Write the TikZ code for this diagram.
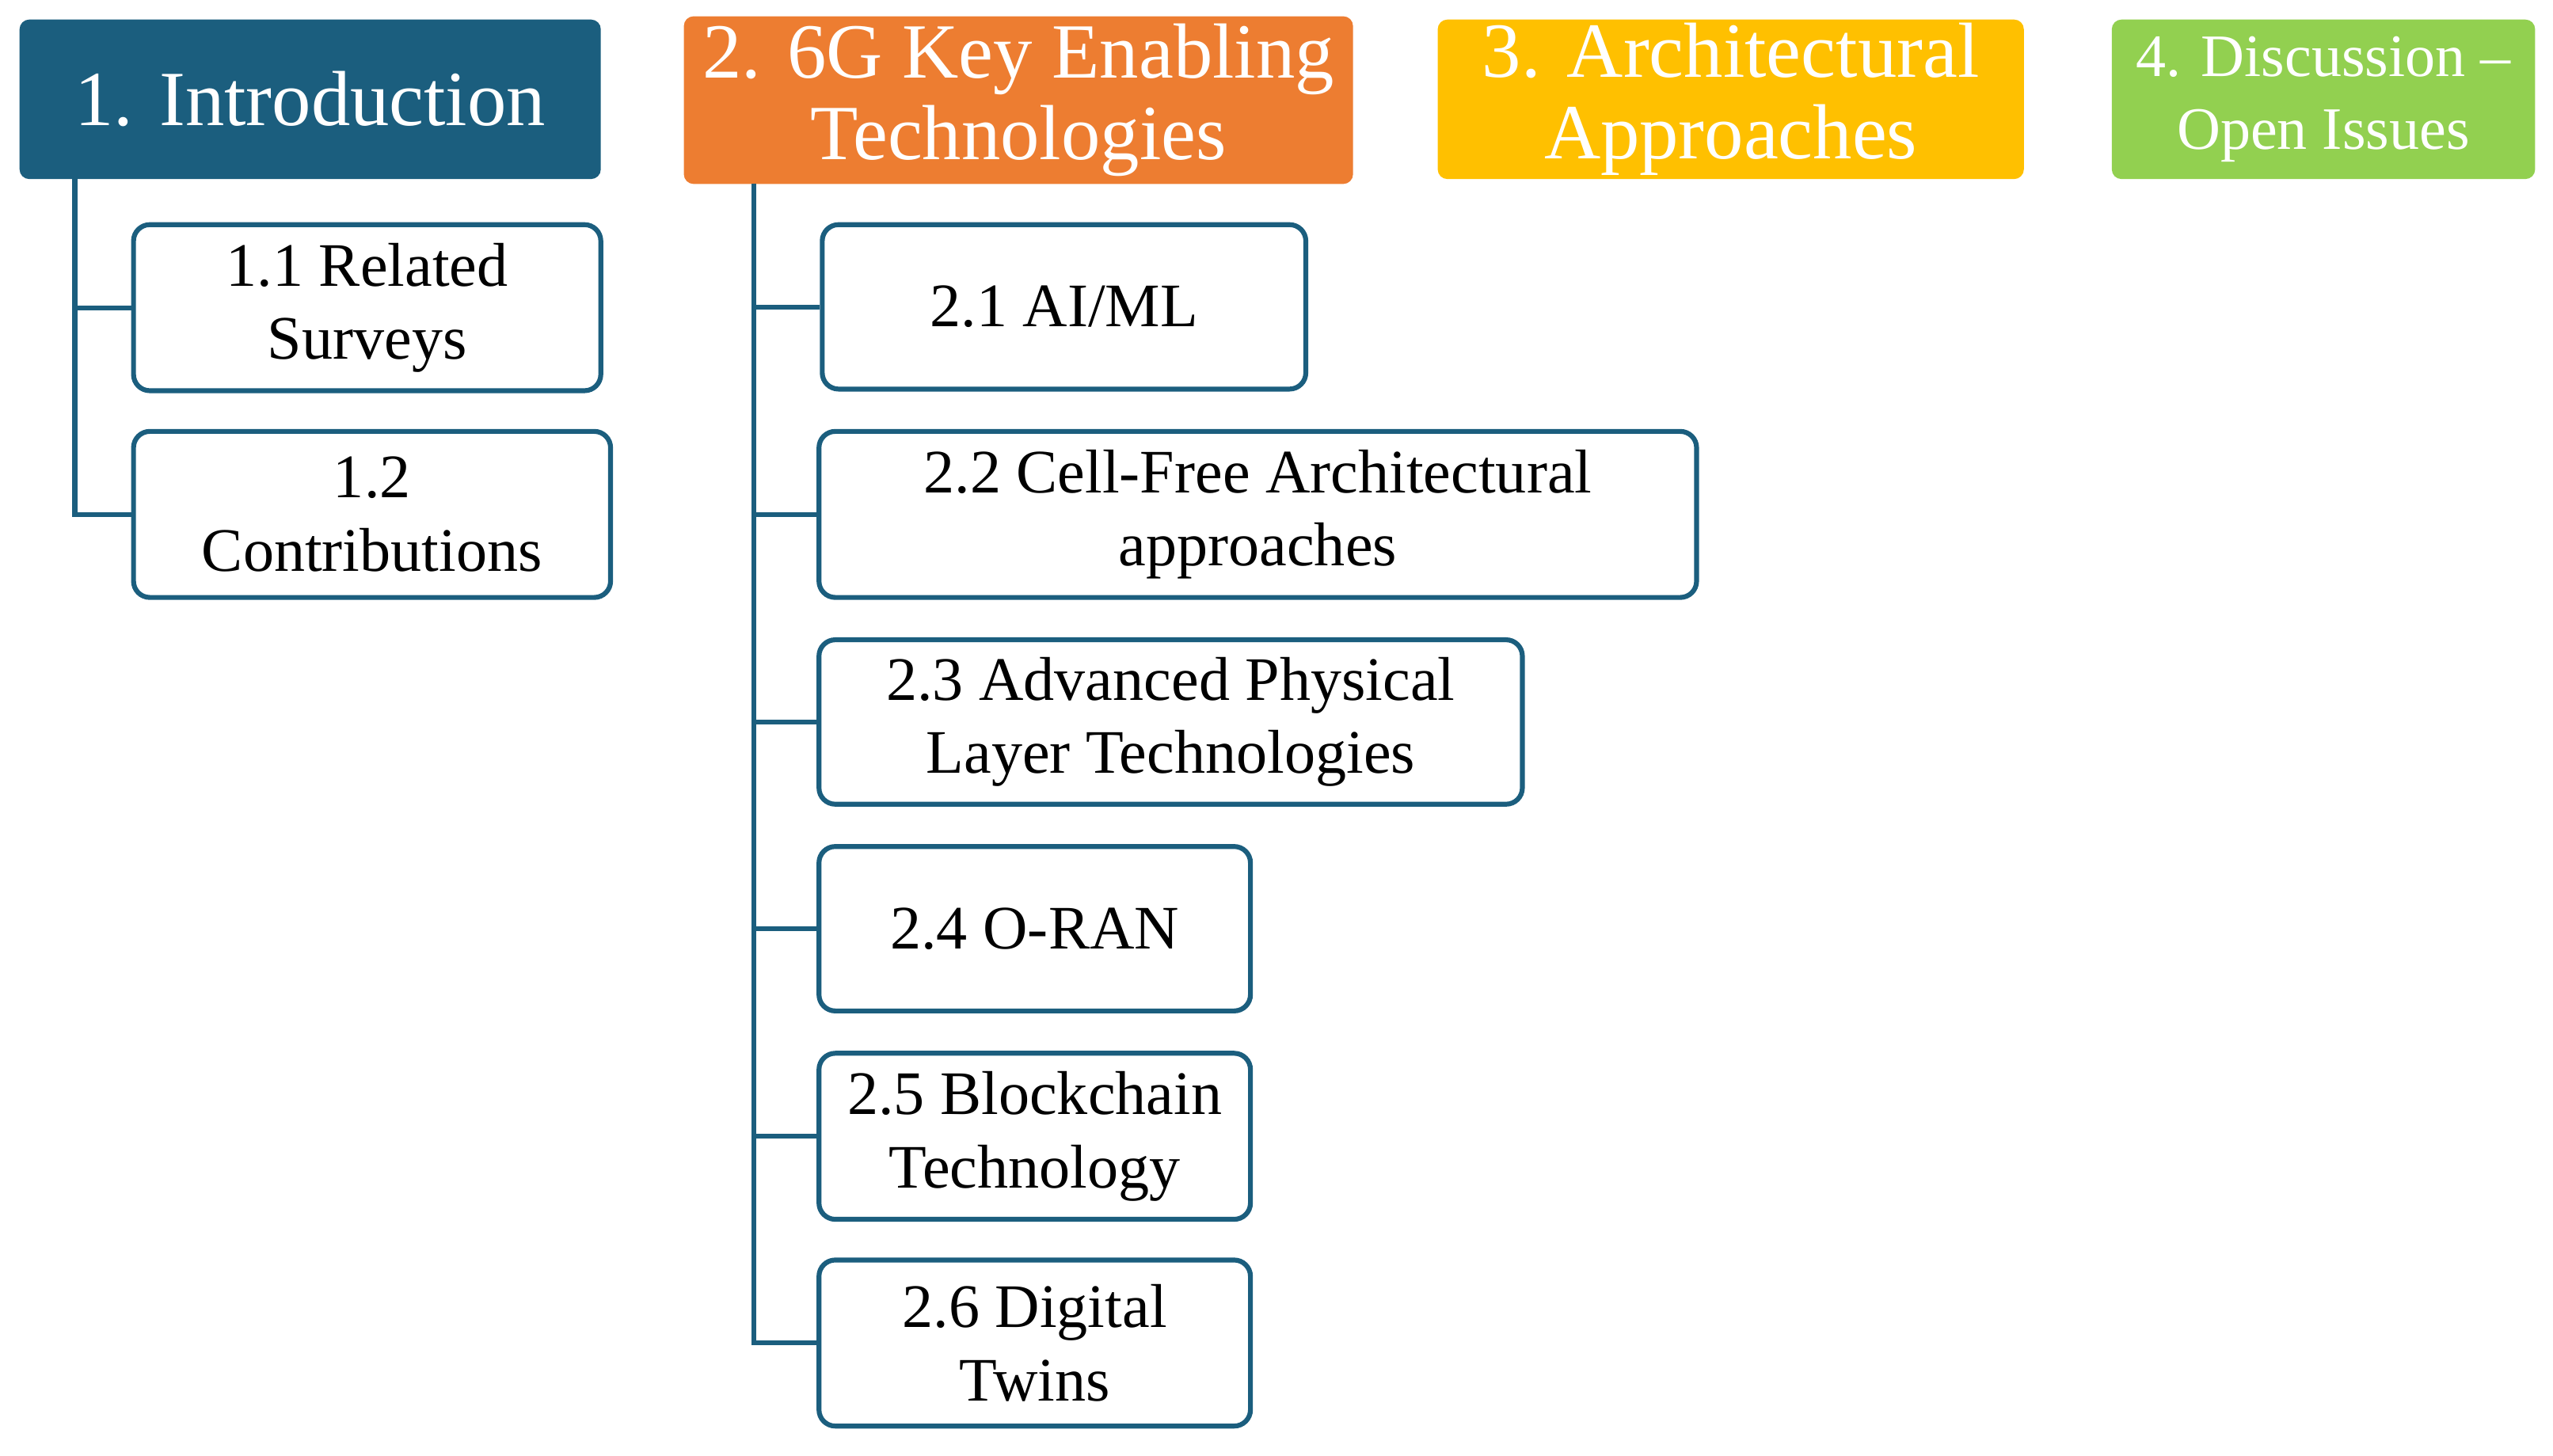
\documentclass[tikz,border=0pt]{standalone}
\usepackage{fontspec}
\setmainfont{Liberation Serif}
\usetikzlibrary{fit}
\definecolor{teal1}{HTML}{1B5E7E}
\definecolor{org}{HTML}{ED7D31}
\definecolor{yel}{HTML}{FFC000}
\definecolor{grn}{HTML}{92D050}
\tikzset{
 head/.style={inner sep=0pt, rounded corners=3pt},
 htext/.style={text=white, align=center, inner sep=0pt, font=\fontsize{24}{25}\selectfont},
 sub/.style={inner sep=0pt, draw=teal1, line width=1.5pt, rounded corners=5pt, fill=white},
 stext/.style={align=center, inner sep=0pt, font=\fontsize{19}{22.5}\selectfont},
 conn/.style={draw=teal1, line width=1.5pt}
}
\begin{document}
\begin{tikzpicture}[x=0.5pt,y=-0.5pt]
\useasboundingbox (0,0) rectangle (1568,894);
\node[head, fill=teal1, fit={(12,12)(369,110)}] (h1) {};
\node[htext] at (h1.center) {1. Introduction};
\node[head, fill=org, fit={(420,10)(831,113)}] (h2) {};
\node[htext] at (h2.center) {2. 6G Key Enabling\\Technologies};
\node[head, fill=yel, fit={(883,12)(1243,110)}] (h3) {};
\node[htext] at (h3.center) {3. Architectural\\Approaches};
\node[head, fill=grn, fit={(1297,12)(1557,110)}] (h4) {};
\node[htext, font=\fontsize{18.5}{22.5}\selectfont] at (h4.center) {4. Discussion --\\Open Issues};
\node[sub, fit={(82,138)(369,240)}] (s11) {};
\node[stext] at (s11.center) {1.1 Related\\Surveys};
\node[sub, fit={(82,265)(375,367)}] (s12) {};
\node[stext] at (s12.center) {1.2\\Contributions};
\node[sub, fit={(505,138)(802,239)}] (s21) {};
\node[stext] at (s21.center) {2.1 AI/ML};
\node[sub, fit={(503,265)(1042,367)}] (s22) {};
\node[stext] at (s22.center) {2.2 Cell-Free Architectural\\approaches};
\node[sub, fit={(503,393)(935,494)}] (s23) {};
\node[stext] at (s23.center) {2.3 Advanced Physical\\Layer Technologies};
\node[sub, fit={(503,520)(768,621)}] (s24) {};
\node[stext] at (s24.center) {2.4 O-RAN};
\node[sub, fit={(503,647)(768,749)}] (s25) {};
\node[stext] at (s25.center) {2.5 Blockchain\\Technology};
\node[sub, fit={(503,774)(768,876)}] (s26) {};
\node[stext] at (s26.center) {2.6 Digital\\Twins};
\coordinate (t1) at (46,110);
\coordinate (t2) at (463,113);
\draw[conn] (t1) |- (s12.west);
\draw[conn] (t1 |- s11.west) -- (s11.west);
\draw[conn] (t2) |- (s26.west);
\foreach \s in {s21,s22,s23,s24,s25} \draw[conn] (t2 |- \s.west) -- (\s.west);
\end{tikzpicture}
\end{document}
